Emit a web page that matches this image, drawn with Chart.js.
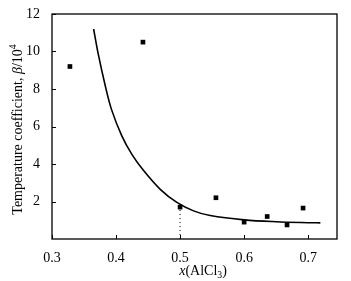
<!DOCTYPE html>
<html>
<head>
<meta charset="utf-8">
<script src="https://cdn.jsdelivr.net/npm/chart.js@4/dist/chart.umd.min.js"></script>
<style>
  html, body { margin: 0; padding: 0; background: #fff; }
  #wrap { width: 351px; height: 281px; }
</style>
</head>
<body>
<div id="wrap"><canvas id="chart" width="351" height="281"></canvas></div>
<script>
// tick labels
const xTicks = [0.3, 0.4, 0.5, 0.6, 0.7];
const yTicks = [2, 4, 6, 8, 10, 12];

// measured points (black squares)
const pointX = [0.328, 0.442, 0.5, 0.556, 0.6, 0.636, 0.667, 0.692];
const pointY = [9.2, 10.5, 1.7, 2.2, 0.9, 1.2, 0.75, 1.65];

// fitted curve
const curveX = [0.365, 0.372, 0.383, 0.393, 0.409, 0.425, 0.443, 0.469, 0.495, 0.521, 0.547, 0.60, 0.65, 0.70, 0.719];
const curveY = [11.2, 9.9, 8.2, 6.9, 5.5, 4.5, 3.65, 2.65, 1.95, 1.5, 1.25, 1.02, 0.92, 0.87, 0.86];

// dotted marker at x = 0.5
const markX = [0.5, 0.5];
const markY = [0, 1.7];

const serif = '"Liberation Serif", "DejaVu Serif", serif';

function toXY(xs, ys) {
  return xs.map((x, i) => ({ x: x, y: ys[i] }));
}

// frame + inward tick marks
const framePlugin = {
  id: 'frame',
  afterDraw(chart) {
    const { ctx, chartArea: a, scales } = chart;
    ctx.save();
    ctx.strokeStyle = '#000';
    ctx.lineWidth = 1.3;
    ctx.strokeRect(a.left, a.top, a.right - a.left, a.bottom - a.top);
    ctx.lineWidth = 1;
    ctx.beginPath();
    xTicks.forEach((v) => {
      const px = Math.round(scales.x.getPixelForValue(v)) + 0.5;
      ctx.moveTo(px, a.bottom);
      ctx.lineTo(px, a.bottom - 4);
    });
    yTicks.forEach((v) => {
      const py = Math.round(scales.y.getPixelForValue(v)) + 0.5;
      ctx.moveTo(a.left, py);
      ctx.lineTo(a.left + 4, py);
    });
    ctx.stroke();
    ctx.restore();
  },
};

// axis titles with mixed italic / sub / superscript runs
function drawRuns(ctx, runs, size) {
  let total = 0;
  runs.forEach((r) => {
    ctx.font = (r.italic ? 'italic ' : '') + (r.shift ? size * 0.7 : size) + 'px ' + serif;
    r.w = ctx.measureText(r.t).width;
    total += r.w;
  });
  let x = -total / 2;
  runs.forEach((r) => {
    ctx.font = (r.italic ? 'italic ' : '') + (r.shift ? size * 0.7 : size) + 'px ' + serif;
    ctx.fillText(r.t, x, r.shift || 0);
    x += r.w;
  });
}

const titlePlugin = {
  id: 'titles',
  afterDraw(chart) {
    const { ctx, chartArea: a } = chart;
    ctx.save();
    ctx.fillStyle = '#000';
    ctx.textBaseline = 'middle';
    ctx.textAlign = 'left';
    ctx.save();
    ctx.translate(18, (a.top + a.bottom) / 2 + 3);
    ctx.rotate(-Math.PI / 2);
    drawRuns(ctx, [
      { t: 'Temperature coefficient, ' },
      { t: 'β', italic: true },
      { t: '/10' },
      { t: '4', shift: -5 },
    ], 14);
    ctx.restore();
    ctx.save();
    ctx.translate(203, 271);
    drawRuns(ctx, [
      { t: 'x', italic: true },
      { t: '(AlCl' },
      { t: '3', shift: 4 },
      { t: ')' },
    ], 14);
    ctx.restore();
    ctx.restore();
  },
};

new Chart(document.getElementById('chart'), {
  type: 'scatter',
  data: {
    datasets: [
      {
        data: toXY(curveX, curveY),
        showLine: true,
        borderColor: '#000',
        borderWidth: 1.6,
        pointRadius: 0,
        tension: 0.35,
      },
      {
        data: toXY(markX, markY),
        showLine: true,
        borderColor: '#000',
        borderWidth: 1,
        borderDash: [1, 3],
        pointRadius: 0,
      },
      {
        data: toXY(pointX, pointY),
        backgroundColor: '#000',
        borderColor: '#000',
        pointStyle: 'rect',
        pointRadius: 3.3,
        borderWidth: 0,
      },
    ],
  },
  options: {
    responsive: false,
    animation: false,
    layout: { padding: { top: 14, right: 14, left: 0, bottom: 0 } },
    plugins: { legend: { display: false }, tooltip: { enabled: false } },
    scales: {
      x: {
        type: 'linear',
        min: 0.3,
        max: 0.745,
        grid: { display: false },
        border: { display: false },
        afterBuildTicks: (s) => { s.ticks = xTicks.map((v) => ({ value: v })); },
        afterFit: (s) => { s.height = 42; },
        ticks: {
          color: '#000',
          padding: 3,
          maxRotation: 0,
          font: { family: serif, size: 14 },
          callback: (v) => v.toFixed(1),
        },
      },
      y: {
        min: 0,
        max: 12,
        grid: { display: false },
        border: { display: false },
        afterBuildTicks: (s) => { s.ticks = yTicks.map((v) => ({ value: v })); },
        afterFit: (s) => { s.width = 52; },
        ticks: {
          color: '#000',
          padding: 4,
          font: { family: serif, size: 14 },
        },
      },
    },
  },
  plugins: [framePlugin, titlePlugin],
});
</script>
</body>
</html>
